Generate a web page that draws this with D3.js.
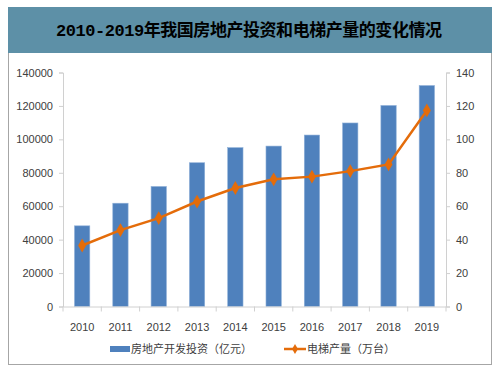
<!DOCTYPE html>
<html>
<head>
<meta charset="utf-8">
<script src="https://cdn.jsdelivr.net/npm/d3@7/dist/d3.min.js"></script>
<style>
  body { margin: 0; background: #fff; }
  svg { display: block; }
</style>
</head>
<body>
<svg id="chart"></svg>
<script>
var years = ["2010","2011","2012","2013","2014","2015","2016","2017","2018","2019"]
var investment = [48259, 61796, 71804, 86013, 95036, 95979, 102581, 109799, 120264, 132194]
var elevators = [36.5, 45.7, 52.9, 62.8, 70.9, 76.1, 77.7, 81.0, 85.0, 117.3]
var leftTicks = [0, 20000, 40000, 60000, 80000, 100000, 120000, 140000]
var rightTicks = [0, 20, 40, 60, 80, 100, 120, 140]
var titleText = "2010-2019年我国房地产投资和电梯产量的变化情况"
var barName = "房地产开发投资（亿元）"
var lineName = "电梯产量（万台）"

var dimensions = {
    width: 498,
    height: 373,
    margin: { top: 72.5, bottom: 66.5, left: 63, right: 52 }
}

var svg = d3.select("#chart")
            .attr("width", dimensions.width)
            .attr("height", dimensions.height)

var axisFont = "'Liberation Sans', Arial, sans-serif"
var cjkFont = "'Noto Sans CJK SC', sans-serif"
var gridColor = "#d0d0d0"
var labelColor = "#404040"

// outer frame
svg.append("rect")
   .attr("x", 8.5).attr("y", 7.5)
   .attr("width", 483).attr("height", 357)
   .style("fill", "none")
   .style("stroke", "#a6a6a6")
   .style("stroke-width", 1)

// title banner
svg.append("rect")
   .attr("x", 8).attr("y", 7)
   .attr("width", 484).attr("height", 46)
   .style("fill", "#5d90a7")

svg.append("text")
   .attr("x", 56).attr("y", 36)
   .attr("textLength", 386)
   .attr("lengthAdjust", "spacing")
   .style("font-family", "'Liberation Mono', " + cjkFont)
   .style("font-weight", "bold")
   .style("font-size", "17px")
   .style("fill", "#000")
   .text(titleText)

var xScale = d3.scaleBand()
               .domain(years)
               .range([dimensions.margin.left, dimensions.width - dimensions.margin.right])
               .paddingInner(0.6)
               .paddingOuter(0.3)

var yLeft = d3.scaleLinear()
              .domain([0, 140000])
              .range([dimensions.height - dimensions.margin.bottom, dimensions.margin.top])

var yRight = d3.scaleLinear()
               .domain([0, 140])
               .range([dimensions.height - dimensions.margin.bottom, dimensions.margin.top])

// bars
svg.selectAll(".bar")
   .data(years)
   .enter().append("rect")
   .attr("class", "bar")
   .attr("x", d => xScale(d))
   .attr("width", xScale.bandwidth())
   .attr("y", (d, i) => yLeft(investment[i]))
   .attr("height", (d, i) => yLeft(0) - yLeft(investment[i]))
   .style("fill", "#4f81bd")
   .style("stroke", "#8fb0d8")
   .style("stroke-width", 0.6)

// axes
var leftAxis = svg.append("g")
                  .attr("transform", `translate(${dimensions.margin.left},0)`)
                  .call(d3.axisLeft(yLeft).tickValues(leftTicks).tickFormat(d3.format("d")).tickSize(4).tickPadding(6))
var rightAxis = svg.append("g")
                   .attr("transform", `translate(${dimensions.width - dimensions.margin.right},0)`)
                   .call(d3.axisRight(yRight).tickValues(rightTicks).tickFormat(d3.format("d")).tickSize(4).tickPadding(6))
var bottomAxis = svg.append("g")
                    .attr("transform", `translate(0,${yLeft(0)})`)
                    .call(d3.axisBottom(xScale).tickSize(0).tickPadding(17))

// tick marks at category boundaries
var bounds = d3.range(years.length + 1).map(i => dimensions.margin.left + i * (dimensions.width - dimensions.margin.left - dimensions.margin.right) / years.length)
bottomAxis.selectAll(".bound")
   .data(bounds)
   .enter().append("line")
   .attr("class", "bound")
   .attr("x1", d => d).attr("x2", d => d)
   .attr("y1", 0).attr("y2", 5)
   .style("stroke", gridColor)

;[leftAxis, rightAxis, bottomAxis].forEach(function(ax) {
    ax.selectAll(".domain").style("stroke", gridColor)
    ax.selectAll(".tick line").style("stroke", gridColor)
    ax.selectAll("text")
      .style("font-family", axisFont)
      .style("font-size", "11px")
      .style("fill", labelColor)
})

// line
var line = d3.line()
             .x((d, i) => xScale(years[i]) + xScale.bandwidth() / 2)
             .y(d => yRight(d))

svg.append("path")
   .datum(elevators)
   .attr("d", line)
   .style("fill", "none")
   .style("stroke", "#e46c0a")
   .style("stroke-width", 2.5)

var diamond = d3.symbol().type(d3.symbolDiamond).size(55)
svg.selectAll(".marker")
   .data(elevators)
   .enter().append("path")
   .attr("class", "marker")
   .attr("d", diamond)
   .attr("transform", (d, i) => `translate(${xScale(years[i]) + xScale.bandwidth() / 2},${yRight(d)})`)
   .style("fill", "#e46c0a")

// legend
var legend = svg.append("g")
legend.append("rect")
      .attr("x", 110).attr("y", 346)
      .attr("width", 20).attr("height", 6)
      .style("fill", "#4f81bd")
legend.append("text")
      .attr("x", 131).attr("y", 353)
      .style("font-family", cjkFont)
      .style("font-size", "11px")
      .style("fill", labelColor)
      .text(barName)
legend.append("line")
      .attr("x1", 284).attr("x2", 306)
      .attr("y1", 349).attr("y2", 349)
      .style("stroke", "#e46c0a")
      .style("stroke-width", 2.5)
legend.append("path")
      .attr("d", d3.symbol().type(d3.symbolDiamond).size(30))
      .attr("transform", "translate(295,349)")
      .style("fill", "#e46c0a")
legend.append("text")
      .attr("x", 307).attr("y", 353)
      .style("font-family", cjkFont)
      .style("font-size", "11px")
      .style("fill", labelColor)
      .text(lineName)
</script>
</body>
</html>
